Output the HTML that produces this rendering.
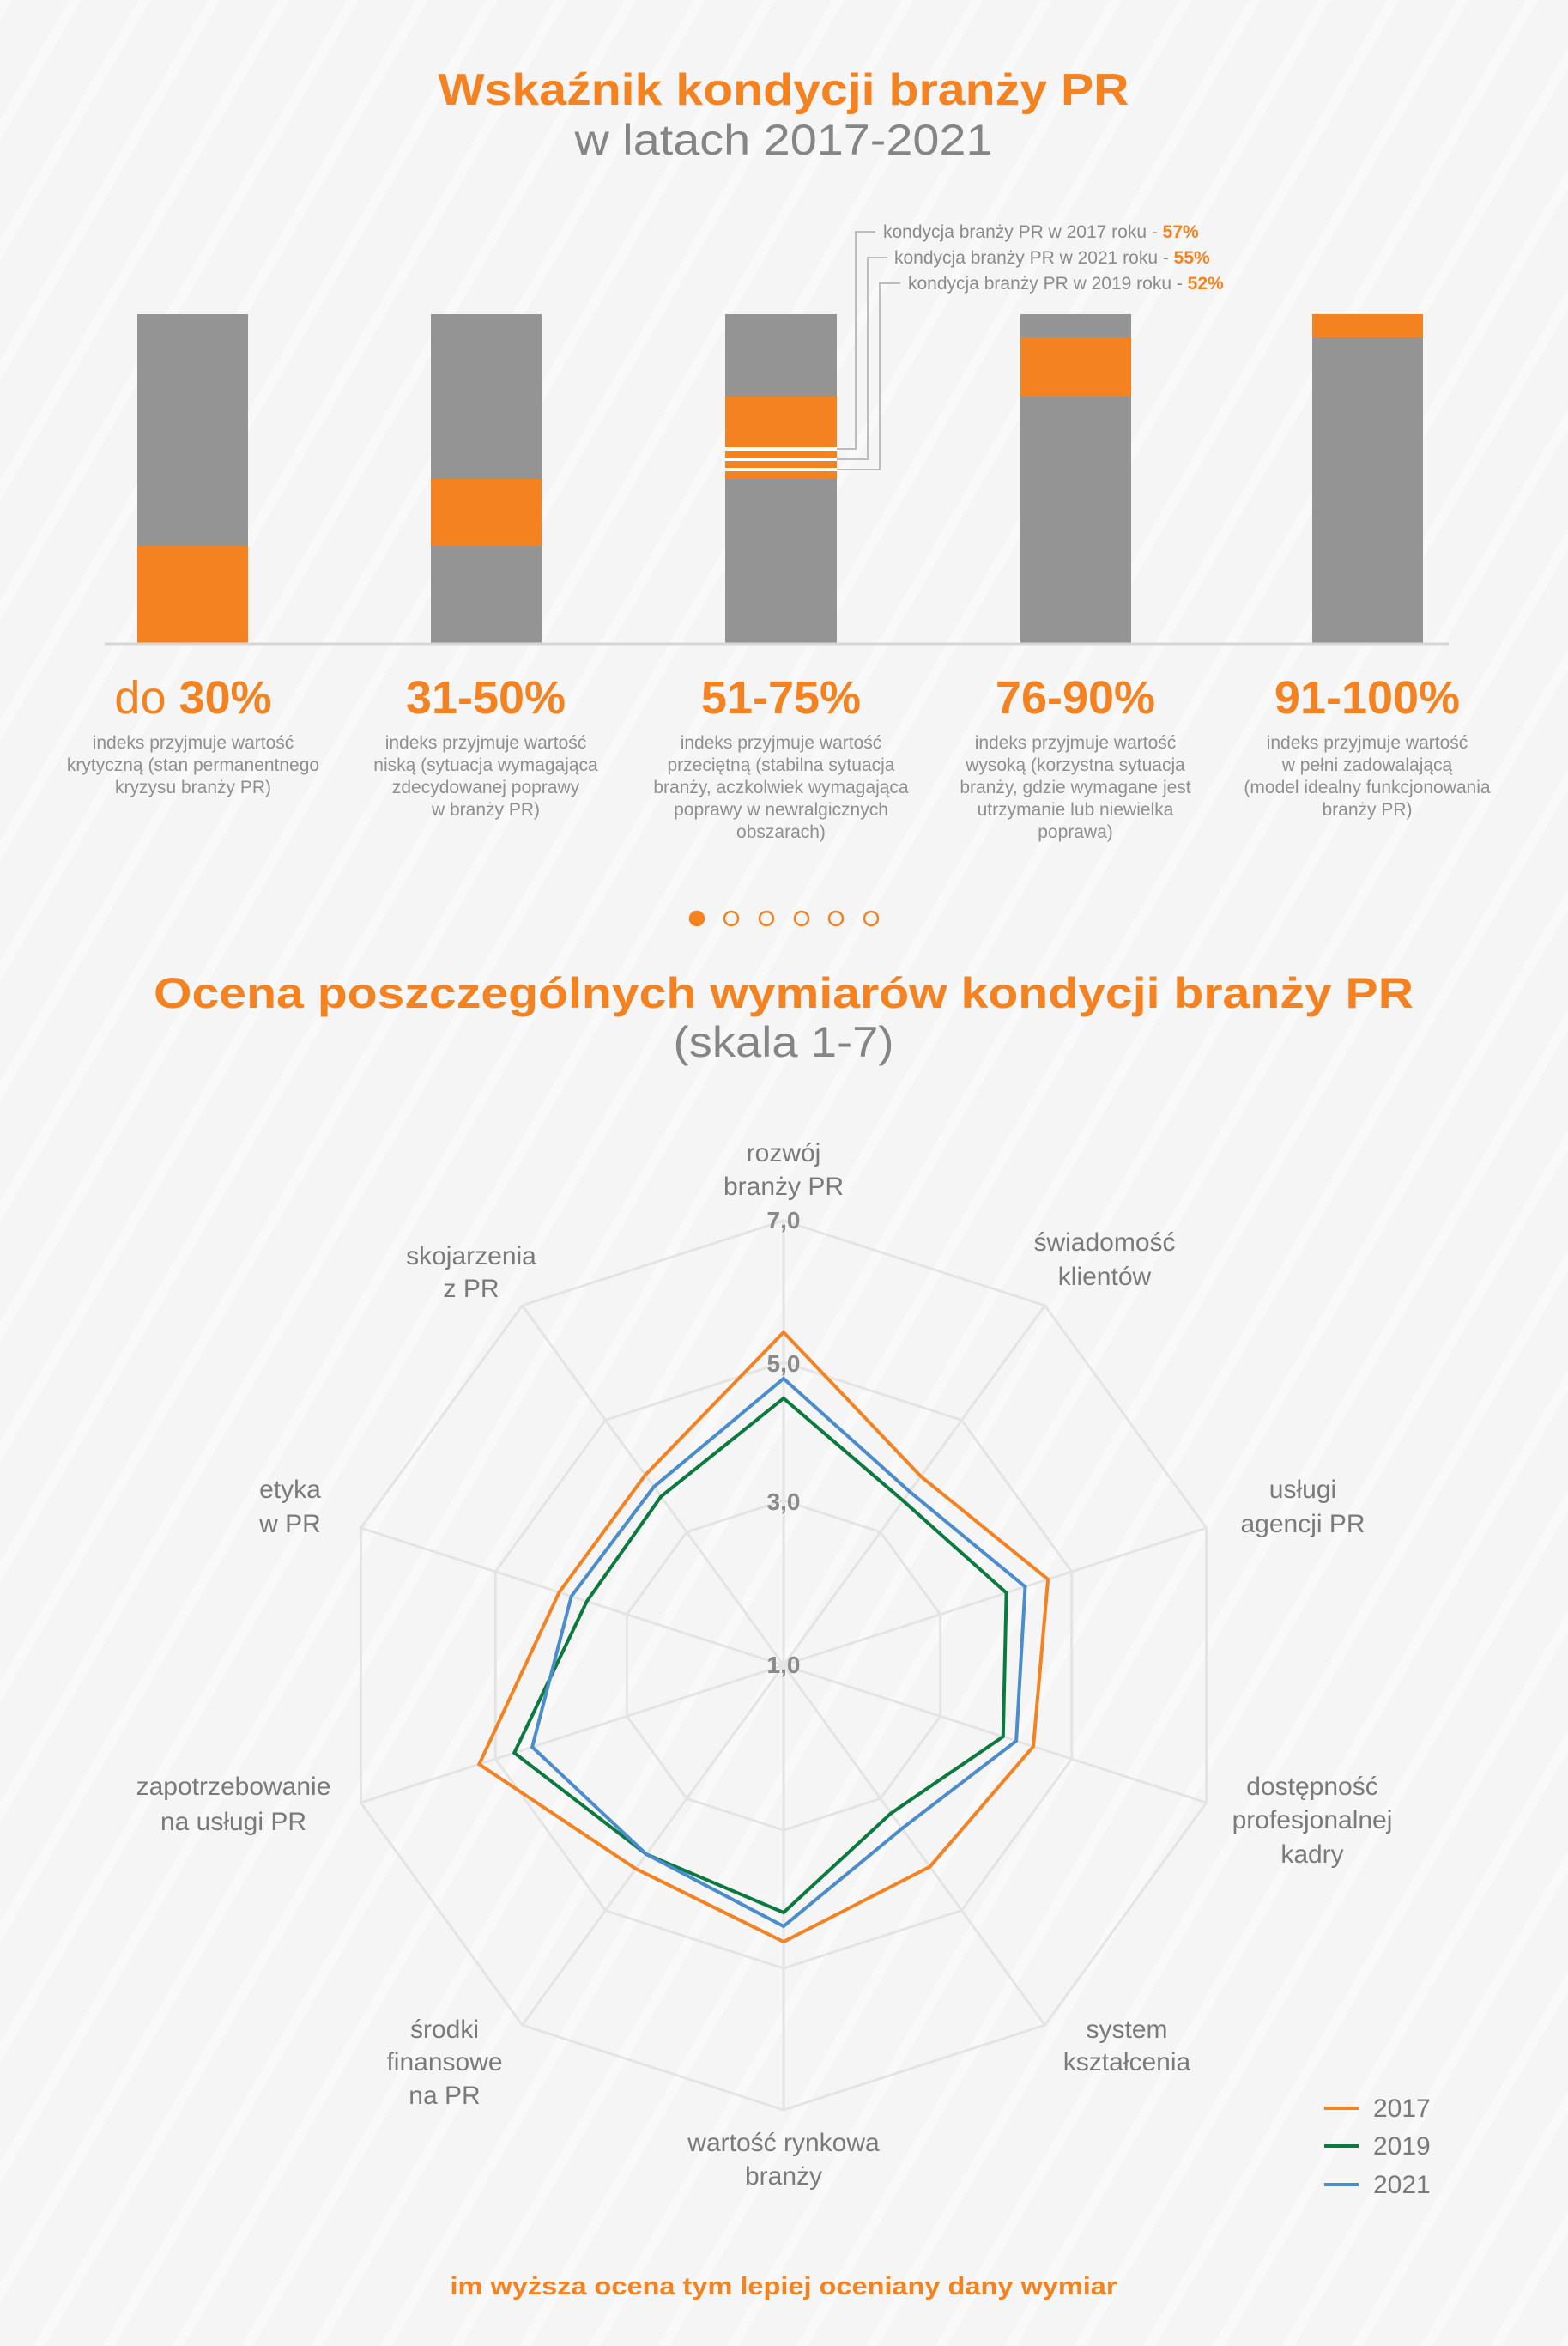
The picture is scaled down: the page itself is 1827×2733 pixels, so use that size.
<!DOCTYPE html>
<html><head><meta charset="utf-8"><style>
html,body{margin:0;padding:0;background:#f6f6f7;}
svg{display:block;font-family:"Liberation Sans",sans-serif;}
</style></head><body>
<svg id="s" width="1827" height="2733" viewBox="0 0 1827 2733" xmlns="http://www.w3.org/2000/svg">
<defs>
<pattern id="st" width="70" height="70" patternUnits="userSpaceOnUse" patternTransform="rotate(30)">
<rect width="70" height="70" fill="#f5f5f6"/><rect width="12" height="70" fill="#f9f9fa"/>
</pattern>
</defs>
<rect width="1827" height="2733" fill="url(#st)"/>
<text x="913" y="122" text-anchor="middle" font-size="52" font-weight="bold" fill="#f58220" textLength="805" lengthAdjust="spacingAndGlyphs">Wskaźnik kondycji branży PR</text>
<text x="913" y="180" text-anchor="middle" font-size="50" fill="#858585" textLength="487" lengthAdjust="spacingAndGlyphs">w latach 2017-2021</text>

<g>
<rect x="160" y="366" width="129" height="270" fill="#949494"/><rect x="160" y="636" width="129" height="114" fill="#f58220"/>
<rect x="502" y="366" width="129" height="192" fill="#949494"/><rect x="502" y="558" width="129" height="78" fill="#f58220"/><rect x="502" y="636" width="129" height="114" fill="#949494"/>
<rect x="845" y="366" width="130" height="96" fill="#949494"/><rect x="845" y="462" width="130" height="96" fill="#f58220"/><rect x="845" y="558" width="130" height="192" fill="#949494"/>
<rect x="845" y="521" width="130" height="4" fill="#fff"/><rect x="845" y="533" width="130" height="4" fill="#fff"/><rect x="845" y="545" width="130" height="4" fill="#fff"/>
<rect x="1189" y="366" width="129" height="27" fill="#949494"/><rect x="1189" y="393" width="129" height="69" fill="#f58220"/><rect x="1189" y="462" width="129" height="288" fill="#949494"/>
<rect x="1529" y="366" width="129" height="27" fill="#f58220"/><rect x="1529" y="393" width="129" height="357" fill="#949494"/>
<line x1="122" y1="750" x2="1688" y2="750" stroke="#d6d6d6" stroke-width="3"/>
</g>
<g fill="none" stroke="#bdbdbd" stroke-width="2">
<polyline points="975,523 997,523 997,270 1020,270"/>
<polyline points="975,535 1011,535 1011,300 1034,300"/>
<polyline points="975,547 1025,547 1025,330 1049,330"/>
</g>
<g font-size="21" fill="#8a8a8a">
<text x="1029" y="277">kondycja branży PR w 2017 roku - <tspan fill="#f58220" font-weight="bold">57%</tspan></text>
<text x="1042" y="307">kondycja branży PR w 2021 roku - <tspan fill="#f58220" font-weight="bold">55%</tspan></text>
<text x="1058" y="337">kondycja branży PR w 2019 roku - <tspan fill="#f58220" font-weight="bold">52%</tspan></text>
</g>
<g font-size="54" font-weight="bold" fill="#f58220" text-anchor="middle">
<text x="225" y="831"><tspan font-weight="normal">do </tspan>30%</text>
<text x="566" y="831">31-50%</text>
<text x="910" y="831">51-75%</text>
<text x="1253" y="831">76-90%</text>
<text x="1593" y="831">91-100%</text>
</g>
<g font-size="21" fill="#8f8f8f" text-anchor="middle">
<text x="225" y="872">indeks przyjmuje wartość</text><text x="225" y="898">krytyczną (stan permanentnego</text><text x="225" y="924">kryzysu branży PR)</text>
<text x="566" y="872">indeks przyjmuje wartość</text><text x="566" y="898">niską (sytuacja wymagająca</text><text x="566" y="924">zdecydowanej poprawy</text><text x="566" y="950">w branży PR)</text>
<text x="910" y="872">indeks przyjmuje wartość</text><text x="910" y="898">przeciętną (stabilna sytuacja</text><text x="910" y="924">branży, aczkolwiek wymagająca</text><text x="910" y="950">poprawy w newralgicznych</text><text x="910" y="976">obszarach)</text>
<text x="1253" y="872">indeks przyjmuje wartość</text><text x="1253" y="898">wysoką (korzystna sytuacja</text><text x="1253" y="924">branży, gdzie wymagane jest</text><text x="1253" y="950">utrzymanie lub niewielka</text><text x="1253" y="976">poprawa)</text>
<text x="1593" y="872">indeks przyjmuje wartość</text><text x="1593" y="898">w pełni zadowalającą</text><text x="1593" y="924">(model idealny funkcjonowania</text><text x="1593" y="950">branży PR)</text>
</g>
<g stroke="#f58220" stroke-width="2.5" fill="none">
<circle cx="812" cy="1070" r="8" fill="#f58220"/><circle cx="852" cy="1070" r="8"/><circle cx="893" cy="1070" r="8"/><circle cx="934" cy="1070" r="8"/><circle cx="974" cy="1070" r="8"/><circle cx="1015" cy="1070" r="8"/>
</g>
<text x="913" y="1174" text-anchor="middle" font-size="50" font-weight="bold" fill="#f58220" textLength="1468" lengthAdjust="spacingAndGlyphs">Ocena poszczególnych wymiarów kondycji branży PR</text>
<text x="913" y="1231" text-anchor="middle" font-size="50" fill="#858585" textLength="257" lengthAdjust="spacingAndGlyphs">(skala 1-7)</text>

<g id="grid" fill="none" stroke="#e4e4e4" stroke-width="3"></g>
<g id="series" fill="none" stroke-width="4" stroke-linejoin="miter"></g>
<g font-size="28" font-weight="bold" fill="#8a8a8a" text-anchor="middle">
<text x="913" y="1431">7,0</text><text x="913" y="1598">5,0</text><text x="913" y="1759">3,0</text><text x="913" y="1949">1,0</text>
</g>
<g font-size="30" fill="#7a7a7a" text-anchor="middle">
<text x="913" y="1353">rozwój</text><text x="913" y="1392">branży PR</text>
<text x="1287" y="1457">świadomość</text><text x="1287" y="1497">klientów</text>
<text x="1518" y="1745">usługi</text><text x="1518" y="1785">agencji PR</text>
<text x="1529" y="2091">dostępność</text><text x="1529" y="2130">profesjonalnej</text><text x="1529" y="2170">kadry</text>
<text x="1313" y="2374">system</text><text x="1313" y="2412">kształcenia</text>
<text x="913" y="2506">wartość rynkowa</text><text x="913" y="2545">branży</text>
<text x="518" y="2374">środki</text><text x="518" y="2412">finansowe</text><text x="518" y="2451">na PR</text>
<text x="272" y="2091">zapotrzebowanie</text><text x="272" y="2132">na usługi PR</text>
<text x="338" y="1745">etyka</text><text x="338" y="1785">w PR</text>
<text x="549" y="1473">skojarzenia</text><text x="549" y="1511">z PR</text>
</g>
<g stroke-width="4">
<line x1="1543" y1="2456" x2="1583" y2="2456" stroke="#f58220"/>
<line x1="1543" y1="2500" x2="1583" y2="2500" stroke="#0b7a3e"/>
<line x1="1543" y1="2545" x2="1583" y2="2545" stroke="#4a8ccc"/>
</g>
<g font-size="30" fill="#7a7a7a">
<text x="1600" y="2466">2017</text><text x="1600" y="2510">2019</text><text x="1600" y="2555">2021</text>
</g>
<text x="913" y="2673" text-anchor="middle" font-size="29" font-weight="bold" fill="#f58220" textLength="777" lengthAdjust="spacingAndGlyphs">im wyższa ocena tym lepiej oceniany dany wymiar</text>
</svg>
<script>
(function(){
var cx=913,cy=1940,NS="http://www.w3.org/2000/svg";
function pt(i,r){var a=i*Math.PI/5;return (cx+r*Math.sin(a)).toFixed(1)+","+(cy-r*Math.cos(a)).toFixed(1);}
function poly(rs){var p=[];for(var i=0;i<10;i++)p.push(pt(i,rs[i]));return p.join(" ");}
var g=document.getElementById("grid");
[518,353,192].forEach(function(r){var e=document.createElementNS(NS,"polygon");var a=[];for(var i=0;i<10;i++)a.push(r);e.setAttribute("points",poly(a));g.appendChild(e);});
for(var i=0;i<10;i++){var l=document.createElementNS(NS,"polyline");l.setAttribute("points",cx+","+cy+" "+pt(i,518));g.appendChild(l);}
var s=document.getElementById("series");
var data=[["#f58220",[388,272,324,306,290,322,293,373,275,274]],
["#0b7a3e",[311,237,273,269,213,288,272,330,241,243]],
["#4a8ccc",[334,250,296,285,235,304,272,308,260,257]]];
data.forEach(function(d){var e=document.createElementNS(NS,"polygon");e.setAttribute("points",poly(d[1]));e.setAttribute("stroke",d[0]);s.appendChild(e);});
})();
</script>
</body></html>
